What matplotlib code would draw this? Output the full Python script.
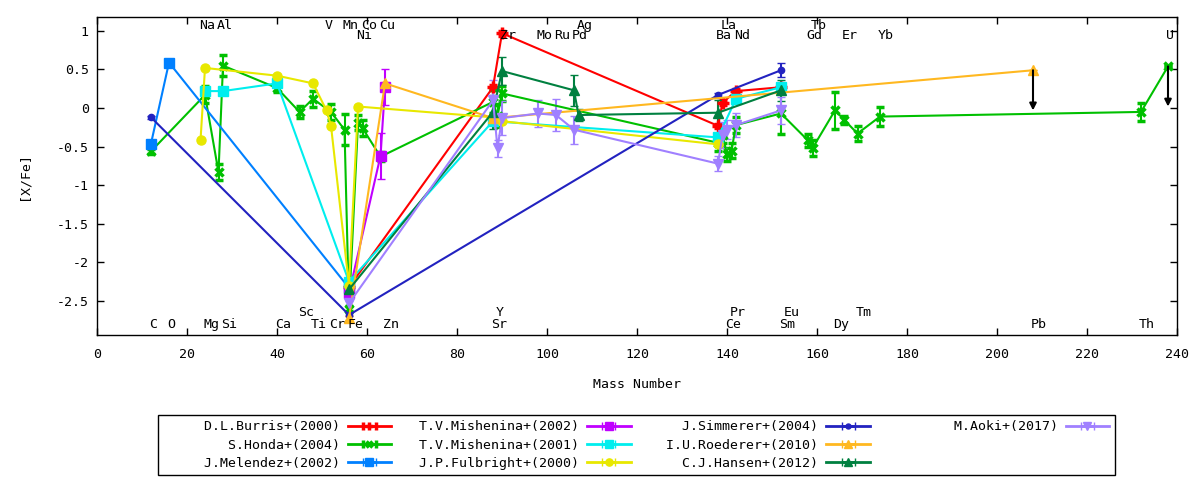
import matplotlib
matplotlib.use('Agg')
import matplotlib.pyplot as plt
from matplotlib.lines import Line2D

plt.rcParams['font.family'] = 'DejaVu Sans Mono'
plt.rcParams['font.size'] = 9.5

# element names drawn along the top and bottom of the frame (by mass number)
top_hi_el = ['Na', 'Al', 'V', 'Mn', 'Co', 'Cu', 'Ag', 'La', 'Tb']
top_hi_A = [23, 27, 51, 55, 59, 63, 107, 139, 159]
top_lo_el = ['Ni', 'Zr', 'Mo', 'Ru', 'Pd', 'Ba', 'Nd', 'Gd', 'Er', 'Yb', 'U']
top_lo_A = [58, 90, 98, 102, 106, 138, 142, 158, 166, 174, 238]
bot_hi_el = ['Sc', 'Y', 'Pr', 'Eu', 'Tm']
bot_hi_A = [45, 89, 141, 153, 169]
bot_lo_el = ['C', 'O', 'Mg', 'Si', 'Ca', 'Ti', 'Cr', 'Fe', 'Zn', 'Sr', 'Ce', 'Sm', 'Dy', 'Pb', 'Th']
bot_lo_A = [12, 16, 24, 28, 40, 48, 52, 56, 64, 88, 140, 152, 164, 208, 232]

# D.L.Burris+(2000)
burris_A = [56, 88, 90, 138, 139, 142, 152]
burris_y = [-2.32, 0.27, 0.97, -0.23, 0.07, 0.22, 0.27]
burris_e = [0.03, 0.03, 0.03, 0.03, 0.03, 0.03, 0.03]

# S.Honda+(2004)
honda_A = [12, 24, 27, 28, 40, 45, 48, 52, 55, 56, 58, 59, 63, 88, 89, 90,
           138, 139, 140, 141, 142, 152, 158, 159, 164, 166, 169, 174, 232, 238]
honda_y = [-0.56, 0.17, -0.83, 0.55, 0.26, -0.05, 0.12, -0.05, -0.28, -2.6, -0.19, -0.26, -0.63, 0.08, -0.1, 0.19,
           -0.45, -0.35, -0.6, -0.55, -0.22, -0.07, -0.42, -0.52, -0.03, -0.15, -0.33, -0.11, -0.05, 0.54]
honda_e = [0.03, 0.11, 0.1, 0.14, 0.05, 0.08, 0.1, 0.1, 0.2, 0.03, 0.1, 0.1, 0.06, 0.15, 0.15, 0.1,
           0.1, 0.1, 0.08, 0.1, 0.1, 0.27, 0.08, 0.1, 0.24, 0.05, 0.1, 0.12, 0.12, 0.0]

# J.Melendez+(2002)
melendez_A = [12, 16, 56]
melendez_y = [-0.46, 0.59, -2.33]
melendez_e = [0.03, 0.03, 0.03]

# T.V.Mishenina+(2002)
mish02_A = [56, 63, 64]
mish02_y = [-2.4, -0.62, 0.27]
mish02_e = [0.03, 0.3, 0.23]

# T.V.Mishenina+(2001)
mish01_A = [24, 28, 40, 56, 88, 138, 142, 152]
mish01_y = [0.22, 0.22, 0.32, -2.25, -0.17, -0.38, 0.12, 0.27]
mish01_e = [0.03, 0.03, 0.03, 0.03, 0.03, 0.03, 0.03, 0.03]

# J.P.Fulbright+(2000)
fulb_A = [23, 24, 40, 48, 51, 52, 56, 58, 88, 90, 138]
fulb_y = [-0.42, 0.52, 0.42, 0.32, -0.03, -0.23, -2.3, 0.02, -0.12, -0.17, -0.47]
fulb_e = [0.02] * 11

# J.Simmerer+(2004)
simm_A = [12, 56, 138, 152]
simm_y = [-0.12, -2.68, 0.17, 0.49]
simm_e = [0.02, 0.02, 0.03, 0.09]

# I.U.Roederer+(2010)
roed_A = [56, 64, 88, 208]
roed_y = [-2.72, 0.32, -0.13, 0.49]
roed_e = [0.02, 0.02, 0.02, 0.0]

# C.J.Hansen+(2012)
hansen_A = [56, 88, 90, 106, 107, 138, 152]
hansen_y = [-2.35, -0.05, 0.48, 0.23, -0.09, -0.06, 0.23]
hansen_e = [0.06, 0.22, 0.18, 0.2, 0.08, 0.16, 0.14]

# M.Aoki+(2017)
aoki_A = [56, 88, 89, 90, 98, 102, 106, 138, 139, 140, 142, 152]
aoki_y = [-2.53, 0.1, -0.52, -0.13, -0.07, -0.09, -0.28, -0.72, -0.35, -0.28, -0.22, -0.03]
aoki_e = [0.03, 0.27, 0.11, 0.22, 0.17, 0.21, 0.18, 0.1, 0.17, 0.12, 0.16, 0.17]

# upper limits (arrows pointing down)
limit_A = [208, 238]
limit_y = [0.49, 0.54]

series = [
    ('D.L.Burris+(2000)', burris_A, burris_y, burris_e, '#ff0000', '+', 8),
    ('S.Honda+(2004)', honda_A, honda_y, honda_e, '#00c000', 'x', 6),
    ('J.Melendez+(2002)', melendez_A, melendez_y, melendez_e, '#0080ff', 's', 6.5),
    ('T.V.Mishenina+(2002)', mish02_A, mish02_y, mish02_e, '#c000ff', 's', 6.5),
    ('T.V.Mishenina+(2001)', mish01_A, mish01_y, mish01_e, '#00eeee', 's', 6.5),
    ('J.P.Fulbright+(2000)', fulb_A, fulb_y, fulb_e, '#e8e800', 'o', 6.5),
    ('J.Simmerer+(2004)', simm_A, simm_y, simm_e, '#2222c0', 'o', 4.5),
    ('I.U.Roederer+(2010)', roed_A, roed_y, roed_e, '#ffb820', '^', 7),
    ('C.J.Hansen+(2012)', hansen_A, hansen_y, hansen_e, '#008040', '^', 7),
    ('M.Aoki+(2017)', aoki_A, aoki_y, aoki_e, '#a080ff', 'v', 7),
]

fig = plt.figure(figsize=(12, 4.8), dpi=100)
ax = fig.add_axes([97 / 1200, 1 - 335 / 480, 1080 / 1200, 318 / 480])

handles = []
labels = []
for name, A, y, e, col, mk, ms in series:
    mew = 2.5 if mk in ('+', 'x') else 1
    ax.errorbar(A, y, yerr=e, color=col, marker=mk, ms=ms, mew=mew, lw=1.5,
                elinewidth=1.5, capsize=3, capthick=1.5)
    # legend sample: horizontal bar with end caps, like gnuplot
    h = ax.errorbar([float('nan')], [float('nan')], xerr=[1], color=col, marker=mk, ms=ms * 0.8,
                    mew=mew, lw=2, elinewidth=2, capsize=3, capthick=2)
    handles.append(h)
    labels.append(name.rjust(22))

# gnuplot fills the key 3 rows per column -> pad the last column with blanks
blank = Line2D([], [], color='none')
handles += [blank, blank]
labels += ['', '']

for a, yv in zip(limit_A, limit_y):
    ax.annotate('', xy=(a, yv - 0.52), xytext=(a, yv),
                arrowprops=dict(arrowstyle='-|>', color='black', lw=1.5,
                                mutation_scale=10, shrinkA=0, shrinkB=0))

for els, As, yt in [(top_hi_el, top_hi_A, 1.071), (top_lo_el, top_lo_A, 0.941),
                    (bot_hi_el, bot_hi_A, -2.643), (bot_lo_el, bot_lo_A, -2.799)]:
    for el, a in zip(els, As):
        ax.text(a - 0.4, yt, el, ha='left', va='center', fontsize=9.5)

ax.set_xlim(0, 240)
ax.set_ylim(-2.94, 1.18)
ax.set_xticks(range(0, 241, 20))
ax.set_yticks([-2.5, -2, -1.5, -1, -0.5, 0, 0.5, 1])
ax.set_yticklabels(['-2.5', '-2', '-1.5', '-1', '-0.5', '0', '0.5', '1'])
ax.tick_params(direction='in', top=True, right=True, length=5, width=1)
ax.tick_params(axis='x', pad=9)
ax.tick_params(axis='y', pad=6)
for sp in ax.spines.values():
    sp.set_linewidth(1)

ax.set_xlabel('Mass Number')
ax.xaxis.set_label_coords(0.5, -0.135)
ax.set_ylabel('[X/Fe]')
ax.yaxis.set_label_coords(-0.062, 0.5)

leg = fig.legend(handles, labels, ncol=4, loc='center', bbox_to_anchor=(636.5 / 1200, 1 - 445 / 480),
                 markerfirst=False, handlelength=3.3, handletextpad=0.6, columnspacing=0.9,
                 labelspacing=0.4, borderpad=0.4, fancybox=False, framealpha=1,
                 edgecolor='black')
leg.get_frame().set_linewidth(1)

fig.savefig('out.png', dpi=100)
